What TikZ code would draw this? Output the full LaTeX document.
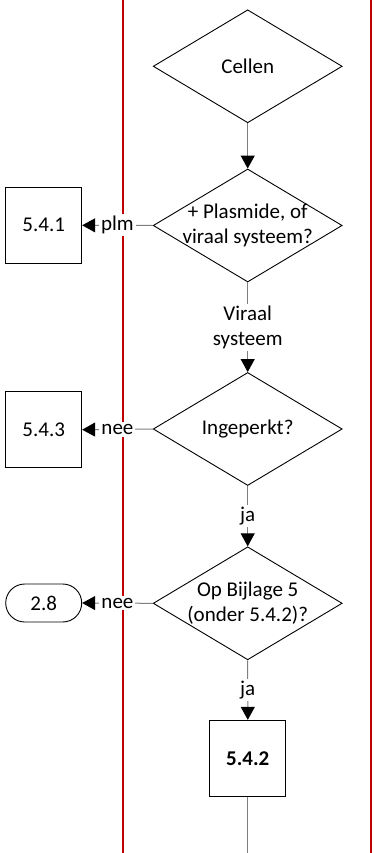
\documentclass[tikz,border=0pt]{standalone}
\usepackage{fontspec}
\setmainfont{Carlito}
\usetikzlibrary{arrows.meta,shapes.geometric}
\definecolor{Lane}{HTML}{C00000}
\definecolor{Flow}{HTML}{7F7F7F}

\tikzset{
  decision/.style={diamond,draw,line width=.9pt,minimum width=189pt,minimum height=113pt,inner sep=0pt},
  stepbox/.style={rectangle,draw,line width=.9pt,minimum size=76pt,inner sep=0pt},
  endbox/.style={rectangle,rounded corners=19pt,draw,line width=.9pt,minimum width=76pt,minimum height=38pt,inner sep=0pt},
  flow/.style={draw=Flow,line width=1pt,-{Triangle[length=13pt,width=14pt,black]}},
  flowlabel/.style={fill=white,inner sep=2pt,align=center}
}

\begin{document}
\begin{tikzpicture}[x=1pt,y=-1pt,font=\fontsize{21}{25.5}\selectfont]
    \useasboundingbox (0,0) rectangle (373,853);
    % swimlanes
    \foreach \xx in {123,371}{
      \draw[Lane,line width=2pt] (\xx,0) -- (\xx,853);
    }
    % decisions
    \node[decision,label={[align=center]center:Cellen}] (cellen) at (247.7,66.3) {};
    \node[decision,label={[align=center]center:+ Plasmide, of\\viraal systeem?}] (plasmide) at (247.7,225.5) {};
    \node[decision,label={[align=center]center:Ingeperkt?}] (ingeperkt) at (247.7,429) {};
    \node[decision,label={[align=center]center:Op Bijlage 5\\(onder 5.4.2)?}] (bijlage) at (247.7,603.3) {};
    % outcomes
    \node[stepbox] (p541) at (43.7,225.3) {5.4.1};
    \node[stepbox] (p543) at (43.7,429.7) {5.4.3};
    \node[endbox] (p28) at (43.7,603) {2.8};
    \node[stepbox,font=\fontsize{21}{25.5}\selectfont\bfseries] (p542) at (247.8,758.3) {5.4.2};
    \coordinate (verder) at (247.8,853);
    % connectors
    \draw[flow] (cellen.south) -- (plasmide.north);
    \draw[flow] (plasmide.west) -- node[flowlabel] {plm} (p541.east);
    \draw[flow] (plasmide.south) -- node[flowlabel] {Viraal\\systeem} (ingeperkt.north);
    \draw[flow] (ingeperkt.west) -- node[flowlabel] {nee} (p543.east);
    \draw[flow] (ingeperkt.south) -- node[flowlabel] {ja} (bijlage.north);
    \draw[flow] (bijlage.west) -- node[flowlabel] {nee} (p28.east);
    \draw[flow] (bijlage.south) -- node[flowlabel] {ja} (p542.north);
    \draw[draw=Flow,line width=1pt] (p542.south) -- (verder);
  \end{tikzpicture}
\end{document}
